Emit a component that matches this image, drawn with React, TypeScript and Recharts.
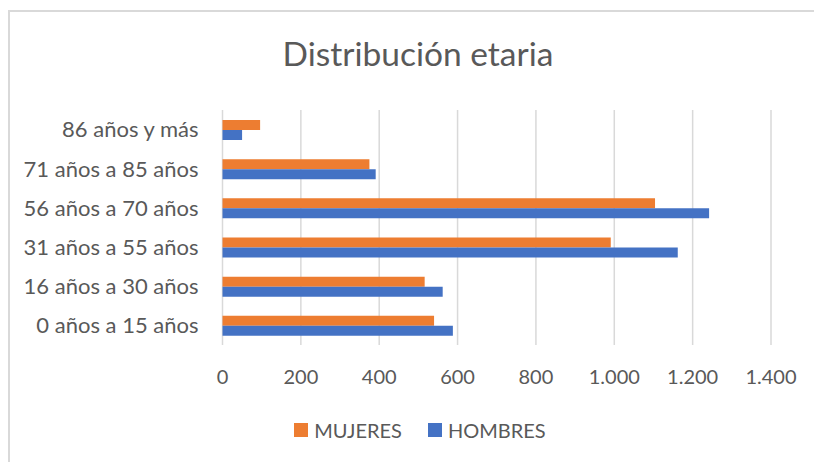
import { BarChart, Bar, CartesianGrid, XAxis, YAxis, Legend } from "recharts"

const categories = [
  "86 años y más",
  "71 años a 85 años",
  "56 años a 70 años",
  "31 años a 55 años",
  "16 años a 30 años",
  "0 años a 15 años",
]
const mujeres = [96, 375, 1104, 991, 516, 540]
const hombres = [50, 391, 1242, 1162, 562, 588]
const xTicks = [0, 200, 400, 600, 800, 1000, 1200, 1400]

const data = categories.map((name, i) => ({ name, mujeres: mujeres[i], hombres: hombres[i] }))

const FONT = "Lato, 'Open Sans', sans-serif"
const TEXT = "#595959"

const fmt = (v: number) => v.toLocaleString("de-DE")

function LegendContent() {
  const items = [
    { label: "MUJERES", color: "#ED7D31" },
    { label: "HOMBRES", color: "#4472C4" },
  ]
  return (
    <div
      style={{
        display: "flex",
        justifyContent: "center",
        gap: 26,
        fontFamily: FONT,
        fontSize: 20,
        lineHeight: "24px",
        color: TEXT,
      }}
    >
      {items.map((it) => (
        <div key={it.label} style={{ display: "flex", alignItems: "center", gap: 6 }}>
          <span style={{ width: 14, height: 14, background: it.color, display: "inline-block" }} />
          <span>{it.label}</span>
        </div>
      ))}
    </div>
  )
}

export default function App() {
  return (
    <div style={{ position: "absolute", left: 0, top: 0, width: 814, height: 462, background: "#fff", overflow: "hidden" }}>
      <div
        style={{
          position: "absolute",
          left: 8,
          top: 10,
          width: 820,
          height: 470,
          border: "2px solid #d9d9d9",
          boxSizing: "border-box",
        }}
      />
      <div
        style={{
          position: "absolute",
          top: 33,
          left: 0,
          width: 836,
          textAlign: "center",
          fontFamily: FONT,
          fontSize: 33.5,
          color: TEXT,
        }}
      >
        Distribución etaria
      </div>
      <BarChart
        width={814}
        height={462}
        data={data}
        layout="vertical"
        margin={{ top: 110, right: 43, left: 0, bottom: 0 }}
        barSize={10}
        barGap={0}
        style={{ position: "absolute", left: 0, top: 0 }}
      >
        <CartesianGrid horizontal={false} stroke="#d9d9d9" strokeWidth={1.5} />
        <XAxis
          type="number"
          domain={[0, 1400]}
          ticks={xTicks}
          tickFormatter={fmt}
          axisLine={false}
          tickLine={false}
          tickMargin={19}
          height={117}
          interval={0}
          tick={{ fill: TEXT, fontSize: 20, fontFamily: FONT }}
        />
        <YAxis
          type="category"
          dataKey="name"
          width={222.5}
          axisLine={false}
          tickLine={false}
          tickMargin={18}
          interval={0}
          tick={{ fill: TEXT, fontSize: 22, fontFamily: FONT }}
        />
        <Legend
          verticalAlign="middle"
          align="center"
          content={<LegendContent />}
          wrapperStyle={{ top: 418, left: 0, width: 840 }}
        />
        <Bar dataKey="mujeres" name="MUJERES" fill="#ED7D31" isAnimationActive={false} />
        <Bar dataKey="hombres" name="HOMBRES" fill="#4472C4" isAnimationActive={false} />
      </BarChart>
    </div>
  )
}
